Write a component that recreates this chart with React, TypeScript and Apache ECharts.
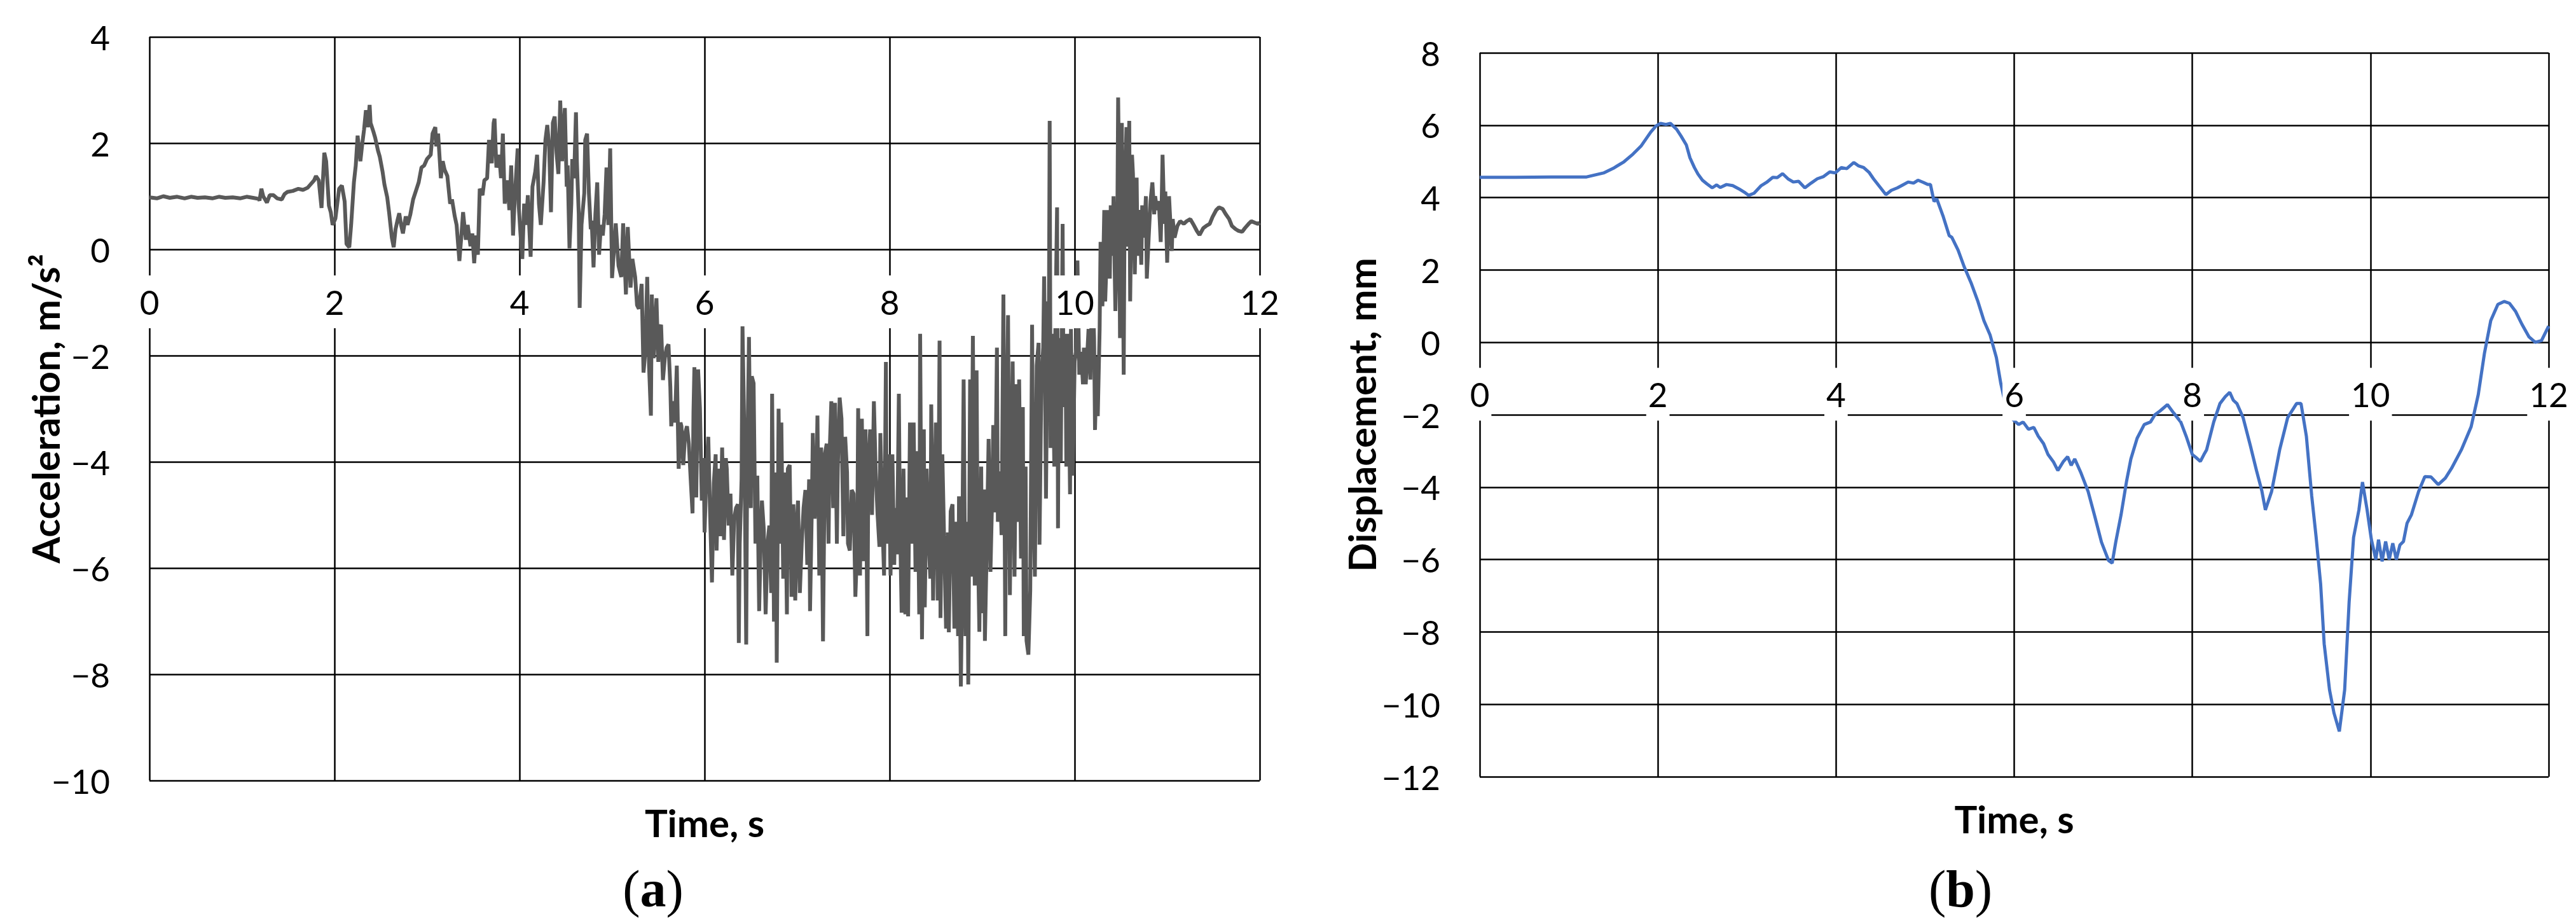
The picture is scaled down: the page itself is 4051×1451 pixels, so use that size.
import React, { useEffect, useRef } from "react";
import * as echarts from "echarts";

// ---------- data ----------
const accelTime = [
  0, 0.08, 0.15, 0.22, 0.3, 0.38, 0.45, 0.52, 0.6, 0.68, 0.75, 0.82, 0.9, 0.98, 1.05, 1.12, 1.18, 1.19, 1.21, 1.23,
  1.27, 1.3, 1.34, 1.38, 1.43, 1.46, 1.49, 1.55, 1.61, 1.66, 1.71, 1.74, 1.78, 1.8, 1.83, 1.86, 1.89, 1.91, 1.94, 1.96,
  1.98, 2.01, 2.03, 2.05, 2.08, 2.11, 2.13, 2.16, 2.18, 2.21, 2.23, 2.25, 2.28, 2.3, 2.32, 2.34, 2.36, 2.38, 2.39, 2.42,
  2.44, 2.47, 2.49, 2.52, 2.54, 2.57, 2.59, 2.62, 2.64, 2.66, 2.68, 2.7, 2.72, 2.74, 2.77, 2.79, 2.82, 2.85, 2.88, 2.91,
  2.94, 2.97, 3.0, 3.04, 3.06, 3.09, 3.1, 3.12, 3.15, 3.17, 3.19, 3.22, 3.25, 3.27, 3.3, 3.32, 3.35, 3.37, 3.39, 3.42,
  3.44, 3.47, 3.49, 3.51, 3.53, 3.55, 3.57, 3.6, 3.62, 3.65, 3.67, 3.7, 3.72, 3.73, 3.75, 3.78, 3.8, 3.82, 3.84, 3.87,
  3.89, 3.91, 3.93, 3.95, 3.98, 3.99, 4.01, 4.03, 4.05, 4.07, 4.09, 4.1, 4.12, 4.14, 4.17, 4.19, 4.21, 4.23, 4.26, 4.28,
  4.3, 4.32, 4.34, 4.36, 4.38, 4.4, 4.42, 4.44, 4.46, 4.47, 4.49, 4.51, 4.52, 4.54, 4.56, 4.57, 4.59, 4.61, 4.62, 4.64,
  4.65, 4.67, 4.7, 4.71, 4.73, 4.75, 4.77, 4.78, 4.8, 4.82, 4.84, 4.86, 4.88, 4.9, 4.92, 4.94, 4.96, 4.98, 5.0,
  5.04, 5.07, 5.1, 5.12, 5.15, 5.17, 5.2, 5.22, 5.25, 5.27, 5.29, 5.32, 5.34, 5.36, 5.38, 5.4, 5.42, 5.43, 5.45, 5.48,
  5.5, 5.51, 5.53, 5.55, 5.57, 5.59, 5.61, 5.63, 5.64, 5.66, 5.68, 5.7, 5.72, 5.74, 5.75, 5.77, 5.79, 5.81, 5.83, 5.85,
  5.87, 5.88, 5.89, 5.91, 5.93, 5.95, 5.97, 5.99, 6.0, 6.02, 6.04, 6.06, 6.08, 6.1, 6.12, 6.13, 6.15, 6.17, 6.19, 6.21,
  6.23, 6.24, 6.26, 6.28, 6.3, 6.32, 6.34, 6.36, 6.37, 6.38, 6.4, 6.41, 6.43, 6.45, 6.46, 6.48, 6.5, 6.51, 6.53, 6.55,
  6.57, 6.59, 6.61, 6.62, 6.64, 6.66, 6.68, 6.7, 6.72, 6.73, 6.75, 6.77, 6.78, 6.8, 6.82, 6.83, 6.85, 6.87, 6.89, 6.9,
  6.92, 6.94, 6.96, 6.98, 7.0, 7.01, 7.03, 7.05, 7.07, 7.09, 7.11, 7.13, 7.14, 7.16, 7.17, 7.19, 7.21, 7.22, 7.24, 7.26,
  7.28, 7.3, 7.32, 7.34, 7.35, 7.37, 7.39, 7.41, 7.43, 7.44, 7.46, 7.48, 7.5, 7.52, 7.54, 7.55, 7.57, 7.59, 7.61, 7.63,
  7.65, 7.66, 7.68, 7.7, 7.72, 7.74, 7.76, 7.77, 7.79, 7.81, 7.83, 7.85, 7.87, 7.89, 7.9, 7.92, 7.94, 7.96, 7.97, 7.99,
  8.01, 8.03, 8.05, 8.06, 8.08, 8.1, 8.11, 8.13, 8.15, 8.17, 8.19, 8.2, 8.22, 8.24, 8.26, 8.28, 8.3, 8.32, 8.33, 8.35,
  8.37, 8.38, 8.4, 8.42, 8.44, 8.45, 8.47, 8.49, 8.5, 8.52, 8.54, 8.55, 8.57, 8.59, 8.61, 8.63, 8.64, 8.66, 8.68, 8.7,
  8.72, 8.74, 8.75, 8.77, 8.78, 8.8, 8.82, 8.84, 8.85, 8.87, 8.88, 8.9, 8.92, 8.94, 8.95, 8.97, 8.99, 9.0, 9.02, 9.03,
  9.05, 9.07, 9.09, 9.11, 9.12, 9.14, 9.16, 9.17, 9.19, 9.21, 9.23, 9.25, 9.26, 9.28, 9.3, 9.32, 9.33, 9.35, 9.37, 9.38,
  9.4, 9.42, 9.44, 9.45, 9.47, 9.48, 9.5, 9.52, 9.54, 9.55, 9.57, 9.59, 9.61, 9.62, 9.64, 9.66, 9.67, 9.69, 9.71, 9.72,
  9.73, 9.74, 9.76, 9.78, 9.79, 9.81, 9.82, 9.83, 9.85, 9.87, 9.88, 9.9, 9.91, 9.93, 9.95, 9.96, 9.98, 10.0, 10.02, 10.03,
  10.05, 10.07, 10.09, 10.1, 10.12, 10.14, 10.15, 10.17, 10.19, 10.21, 10.22, 10.24, 10.25, 10.27, 10.28, 10.3, 10.32, 10.33, 10.35, 10.36,
  10.38, 10.39, 10.41, 10.42, 10.44, 10.46, 10.47, 10.48, 10.49, 10.51, 10.53, 10.54, 10.56, 10.57, 10.59, 10.6, 10.62, 10.63, 10.65, 10.67,
  10.68, 10.7, 10.72, 10.73, 10.75, 10.77, 10.78, 10.8, 10.82, 10.84, 10.86, 10.87, 10.89, 10.91, 10.93, 10.94, 10.95, 10.97, 10.98, 11.0,
  11.02, 11.03, 11.05, 11.06, 11.08, 11.11, 11.14, 11.18, 11.21, 11.25, 11.28, 11.32, 11.35, 11.39, 11.42, 11.46, 11.49, 11.53, 11.56, 11.6,
  11.63, 11.67, 11.7, 11.74, 11.77, 11.81, 11.84, 11.88, 11.91, 11.95, 11.98, 12.0,
];
const accelValue = [
  0.98, 0.96, 1.0, 0.97, 0.99, 0.96, 0.99, 0.97, 0.98, 0.96, 0.99, 0.97, 0.98, 0.96, 0.99, 0.97, 0.95, 0.92, 1.14, 1.0,
  0.88, 1.02, 1.02, 0.96, 0.94, 1.04, 1.08, 1.1, 1.14, 1.12, 1.16, 1.22, 1.3, 1.38, 1.3, 0.78, 1.82, 1.66, 0.82, 0.7,
  0.46, 0.58, 0.86, 1.14, 1.2, 0.9, 0.1, 0.04, 0.46, 1.26, 1.58, 2.14, 1.66, 1.98, 2.26, 2.62, 2.3, 2.72, 2.38, 2.22,
  2.1, 1.86, 1.74, 1.46, 1.22, 0.98, 0.7, 0.22, 0.04, 0.38, 0.54, 0.68, 0.46, 0.3, 0.62, 0.46, 0.66, 0.94, 1.1, 1.26,
  1.54, 1.58, 1.7, 1.78, 2.18, 2.3, 1.94, 2.18, 1.34, 1.66, 1.5, 1.38, 0.86, 0.94, 0.62, 0.46, -0.22, 0.22, 0.7, 0.18,
  0.46, 0.06, 0.3, -0.26, 0.26, -0.1, 1.14, 1.02, 1.3, 1.34, 2.06, 1.62, 2.38, 2.46, 1.54, 1.78, 1.34, 2.18, 0.86, 1.3,
  0.74, 1.58, 0.26, 1.02, 1.9, 0.86, 0.3, -0.18, 0.86, 0.46, 1.02, 0.62, -0.14, 1.18, 1.46, 1.78, 0.86, 0.46, 1.26, 2.06,
  2.34, 1.94, 0.7, 2.38, 2.5, 1.82, 1.42, 2.8, 1.66, 2.06, 2.66, 1.18, 1.58, 0.02, 0.86, 1.7, 1.34, 2.58, 1.66, 0.66,
  -1.1, 0.46, 1.06, 2.06, 2.18, 1.06, 0.38, 0.54, -0.34, 0.66, 1.26, -0.1, 0.46, 0.26, 0.66, 1.54, 0.46, 1.9, -0.54,
  0.49, -0.31, -0.52, 0.49, -0.85, 0.42, -0.72, -0.18, -0.52, -1.05, -1.12, -0.65, -2.32, -1.92, -0.52, -2.19, -3.13, -0.85, -2.05, -0.92,
  -2.12, -1.52, -1.42, -2.46, -2.05, -1.85, -1.79, -2.59, -3.33, -2.86, -3.26, -2.19, -4.13, -3.26, -3.33, -4.06, -3.46, -3.33, -3.66, -4.33,
  -4.97, -3.06, -2.22, -4.67, -2.26, -2.99, -4.73, -3.93, -5.33, -4.2, -3.53, -5.0, -6.27, -4.4, -3.86, -5.67, -4.13, -5.4, -3.73, -5.47,
  -3.93, -4.13, -5.2, -4.6, -6.14, -5.07, -4.87, -4.8, -7.41, -5.54, -4.33, -1.45, -3.53, -7.44, -4.2, -1.65, -4.87, -2.39, -2.52, -5.54,
  -4.26, -6.81, -5.2, -4.73, -5.27, -6.87, -5.54, -5.2, -6.47, -2.72, -7.01, -4.2, -7.78, -3.0, -5.54, -3.26, -6.2, -4.2, -6.87, -4.13,
  -4.06, -6.54, -4.8, -6.61, -5.07, -4.73, -6.47, -5.54, -4.87, -4.53, -5.94, -4.33, -6.81, -4.8, -3.46, -5.07, -4.2, -3.13, -6.14, -3.73,
  -7.38, -3.86, -3.66, -5.54, -3.93, -2.86, -4.87, -2.89, -5.54, -4.13, -2.79, -3.19, -5.4, -3.53, -4.2, -5.54, -5.67, -4.53, -4.6, -6.54,
  -5.54, -2.99, -6.14, -3.19, -5.87, -3.39, -7.28, -4.13, -3.39, -5.0, -2.86, -4.2, -5.0, -5.6, -3.46, -5.0, -6.14, -2.12, -5.54, -3.86,
  -6.14, -3.86, -5.94, -4.87, -5.74, -2.72, -4.87, -6.84, -4.13, -6.87, -4.67, -6.91, -3.26, -5.54, -3.26, -6.07, -3.8, -6.87, -1.59, -7.34,
  -3.39, -6.74, -4.13, -5.4, -6.2, -2.92, -6.61, -4.2, -3.26, -6.61, -1.72, -6.94, -3.86, -5.54, -7.14, -5.33, -7.21, -4.93, -4.8, -7.14,
  -5.13, -7.28, -4.65, -8.23, -6.85, -2.45, -7.28, -5.13, -8.19, -2.45, -6.16, -1.63, -6.33, -2.28, -5.13, -7.2, -4.09, -6.85, -4.52, -7.37,
  -5.56, -3.57, -6.07, -4.52, -3.31, -4.95, -1.85, -5.13, -4.18, -5.38, -0.85, -7.28, -4.26, -1.24, -6.51, -3.4, -2.11, -6.16, -2.54, -5.13,
  -2.45, -5.82, -2.97, -7.28, -4.09, -7.37, -7.63, -6.42, -1.42, -4.26, -6.16, -2.19, -1.76, -5.56, -2.54, -1.85, -0.51, -4.69, -0.98, -2.02,
  2.42, -3.74, -1.59, -4.09, -1.67, 0.79, -5.25, -1.67, -4.0, 0.48, -2.97, -1.59, -4.09, -1.59, -4.61, -1.5, -4.26, -2.11, -1.85, -0.21,
  -2.36, -1.93, -2.54, -1.85, -2.54, -1.85, -1.5, -2.45, -0.55, -1.67, -3.4, -2.02, -3.14, -1.5, 0.14, -1.07, 0.74, -0.98, 0.05, 0.74,
  -0.55, 0.83, -0.12, 1.0, -1.16, 0.22, 2.86, 1.35, -1.67, 2.38, -2.36, 0.91, 2.3, 0.05, 2.42, -0.98, 1.78, 1.43, -0.47, 1.35,
  -0.12, 0.74, -0.29, 0.83, 0.22, 1.0, -0.55, 0.22, 0.91, 1.26, 0.66, 1.0, 0.74, 0.91, 0.14, 0.83, 1.78, 0.48, 1.09, -0.25,
  1.0, 0.66, -0.03, 0.57, 0.22, 0.44, 0.53, 0.48, 0.53, 0.57, 0.48, 0.35, 0.27, 0.4, 0.44, 0.48, 0.61, 0.74, 0.79, 0.76,
  0.67, 0.57, 0.44, 0.38, 0.35, 0.33, 0.4, 0.48, 0.53, 0.5, 0.48, 0.5,
];

const dispTime = [
  0, 0.4, 0.8, 1.2, 1.39, 1.5, 1.62, 1.72, 1.81, 1.92, 1.98, 2.03, 2.09, 2.14, 2.21, 2.26, 2.32, 2.36, 2.41, 2.45,
  2.5, 2.55, 2.61, 2.66, 2.7, 2.77, 2.84, 2.91, 2.97, 3.02, 3.08, 3.16, 3.22, 3.29, 3.34, 3.4, 3.46, 3.52, 3.58, 3.65,
  3.72, 3.79, 3.86, 3.93, 3.99, 4.06, 4.12, 4.2, 4.25, 4.31, 4.37, 4.42, 4.49, 4.56, 4.62, 4.69, 4.75, 4.81, 4.87, 4.92,
  4.98, 5.03, 5.06, 5.1, 5.13, 5.2, 5.27, 5.3, 5.37, 5.44, 5.52, 5.59, 5.66, 5.73, 5.8, 5.85, 5.92, 5.97, 6.05, 6.1,
  6.16, 6.22, 6.27, 6.33, 6.38, 6.44, 6.49, 6.55, 6.6, 6.64, 6.68, 6.75, 6.83, 6.9, 6.98, 7.06, 7.1, 7.14, 7.2, 7.26,
  7.31, 7.38, 7.46, 7.53, 7.58, 7.64, 7.72, 7.79, 7.87, 7.93, 8.0, 8.05, 8.09, 8.13, 8.16, 8.24, 8.31, 8.37, 8.42, 8.46,
  8.5, 8.57, 8.65, 8.72, 8.78, 8.82, 8.89, 8.98, 9.07, 9.17, 9.22, 9.28, 9.34, 9.39, 9.44, 9.48, 9.54, 9.59, 9.65, 9.71,
  9.76, 9.81, 9.87, 9.91, 9.96, 10.01, 10.06, 10.09, 10.13, 10.17, 10.21, 10.25, 10.29, 10.33, 10.37, 10.41, 10.46, 10.54, 10.61, 10.68,
  10.76, 10.84, 10.91, 11.02, 11.13, 11.21, 11.28, 11.35, 11.43, 11.5, 11.56, 11.63, 11.7, 11.78, 11.85, 11.92, 12.0,
];
const dispValue = [
  4.56, 4.56, 4.57, 4.57, 4.68, 4.81, 4.99, 5.2, 5.42, 5.81, 5.98, 6.05, 6.02, 6.05, 5.89, 5.7, 5.45, 5.1, 4.83, 4.65,
  4.48, 4.38, 4.27, 4.35, 4.28, 4.36, 4.33, 4.24, 4.15, 4.06, 4.12, 4.33, 4.42, 4.56, 4.55, 4.66, 4.52, 4.43, 4.45, 4.27,
  4.4, 4.52, 4.58, 4.71, 4.68, 4.83, 4.8, 4.97, 4.88, 4.83, 4.7, 4.52, 4.3, 4.08, 4.2, 4.27, 4.35, 4.43, 4.4, 4.48,
  4.42, 4.36, 4.36, 3.89, 3.97, 3.5, 2.95, 2.9, 2.55, 2.08, 1.62, 1.15, 0.6, 0.2, -0.42, -1.14, -1.91, -2.1, -2.27, -2.2,
  -2.4, -2.35, -2.59, -2.8, -3.1, -3.3, -3.54, -3.3, -3.16, -3.4, -3.22, -3.61, -4.12, -4.76, -5.52, -6.03, -6.1, -5.52, -4.76, -3.86,
  -3.22, -2.65, -2.27, -2.2, -2.0, -1.89, -1.72, -1.95, -2.2, -2.59, -3.1, -3.2, -3.29, -3.1, -2.97, -2.2, -1.69, -1.5, -1.38, -1.6,
  -1.69, -2.08, -2.84, -3.54, -4.1, -4.63, -4.12, -2.97, -2.08, -1.69, -1.69, -2.59, -4.24, -5.39, -6.67, -8.33, -9.6, -10.24, -10.75, -9.6,
  -7.18, -5.39, -4.63, -3.86, -4.6, -5.45, -6.0, -5.45, -6.05, -5.5, -6.0, -5.55, -6.0, -5.6, -5.5, -5.0, -4.76, -4.12, -3.71, -3.72,
  -3.93, -3.75, -3.48, -2.97, -2.33, -1.44, -0.29, 0.6, 1.05, 1.13, 1.08, 0.85, 0.5, 0.15, 0.0, 0.05, 0.45,
];

const timeTitle = "Time, s";
const accelTitle = "Acceleration, m/s\u00B2";
const dispTitle = "Displacement, mm";
const panelLabels = ["a", "b"];

// ---------- styling ----------
const FONT = "Lato";
const GRID_COLOR = "#000";
const GRID_WIDTH = 2.5;
const minusFmt = (v: number) => String(v).replace("-", "\u2212");

const tickLabel = { fontFamily: FONT, fontSize: 53, color: "#000" };
const titleStyle = { fontFamily: FONT, fontSize: 60, fontWeight: "bold" as const, color: "#000", lineHeight: 60 };

function gridXAxis(gridIndex: number) {
  return {
    type: "value" as const,
    gridIndex,
    min: 0,
    max: 12,
    interval: 2,
    position: "bottom" as const,
    axisLine: { show: false, onZero: false },
    axisTick: { show: false },
    axisLabel: { show: false },
    splitLine: { show: true, lineStyle: { color: GRID_COLOR, width: GRID_WIDTH } },
    name: timeTitle,
    nameLocation: "middle" as const,
    nameGap: 36,
    nameMoveOverlap: false,
    nameTextStyle: titleStyle,
  };
}

// tick-label axis drawn above the series, moved up to the zero line by a negative offset
function labelXAxis(gridIndex: number, offset: number, margin: number) {
  return {
    type: "value" as const,
    gridIndex,
    min: 0,
    max: 12,
    interval: 2,
    position: "bottom" as const,
    offset,
    z: 5,
    axisLine: { show: false, onZero: false },
    axisTick: { show: false },
    splitLine: { show: false },
    axisLabel: {
      ...tickLabel,
      margin,
      lineHeight: 53,
      backgroundColor: "#fff",
      padding: [15, 3, 15, 3],
    },
  };
}

function yAxis(gridIndex: number, min: number, max: number, name: string, nameGap: number) {
  return {
    type: "value" as const,
    gridIndex,
    min,
    max,
    interval: 2,
    axisLine: { show: false },
    axisTick: { show: false },
    splitLine: { show: true, lineStyle: { color: GRID_COLOR, width: GRID_WIDTH } },
    axisLabel: { ...tickLabel, margin: 62, formatter: minusFmt },
    name,
    nameLocation: "middle" as const,
    nameGap,
    nameMoveOverlap: false,
    nameTextStyle: titleStyle,
  };
}

function panelLabel(letter: string, x: number, y: number) {
  const base = { fontFamily: "Liberation Serif", fontSize: 82, fill: "#000" };
  return {
    type: "text" as const,
    x,
    y,
    z: 10,
    style: {
      text: "({b|" + letter + "})",
      ...base,
      align: "center",
      verticalAlign: "middle",
      rich: { b: { ...base, fontWeight: "bold" } },
    },
  };
}

// grid geometry (pixels)
const gridA = { left: 235, top: 58, width: 1746, height: 1169 };
const gridB = { left: 2327, top: 83, width: 1681, height: 1138 };
const zeroOffsetA = -(gridA.height * 10) / 14; // distance from bottom (−10) to 0
const zeroOffsetB = -(gridB.height * 12) / 20; // distance from bottom (−12) to 0

export default function App() {
  const ref = useRef<HTMLDivElement>(null);

  useEffect(() => {
    document.body.style.margin = "0";
    if (!ref.current) return;
    const chart = echarts.init(ref.current, undefined, { renderer: "svg" });

    const accelData = accelTime.map((t, i) => [t, accelValue[i]]);
    const dispData = dispTime.map((t, i) => [t, dispValue[i]]);

    chart.setOption({
      animation: false,
      backgroundColor: "#fff",
      grid: [gridA, gridB],
      xAxis: [
        gridXAxis(0),
        labelXAxis(0, zeroOffsetA, 41),
        gridXAxis(1),
        labelXAxis(1, zeroOffsetB, 40),
      ],
      yAxis: [yAxis(0, -10, 4, accelTitle, 134), yAxis(1, -12, 8, dispTitle, 156)],
      series: [
        {
          type: "line",
          xAxisIndex: 0,
          yAxisIndex: 0,
          data: accelData,
          symbol: "none",
          showSymbol: false,
          lineStyle: { color: "#595959", width: 6 },
          z: 2,
        },
        {
          type: "line",
          xAxisIndex: 2,
          yAxisIndex: 1,
          data: dispData,
          symbol: "none",
          showSymbol: false,
          lineStyle: { color: "#4472C4", width: 5 },
          z: 2,
        },
      ],
      graphic: [panelLabel(panelLabels[0], 1027, 1397), panelLabel(panelLabels[1], 3083, 1397)],
    });

    return () => chart.dispose();
  }, []);

  return <div ref={ref} style={{ width: 4051, height: 1451 }} />;
}
